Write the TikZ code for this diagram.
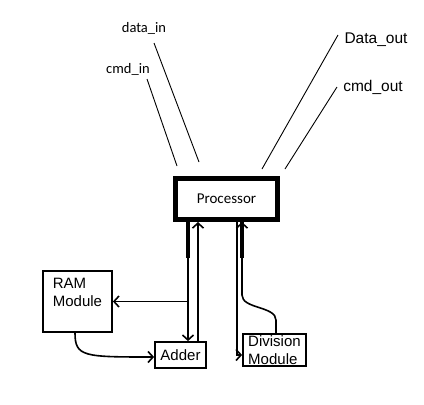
\documentclass[tikz,border=0pt]{standalone}
\usepackage{fontspec}
\setmainfont{Liberation Sans}
\newfontfamily\calibri{Carlito}
\usetikzlibrary{arrows.meta}

\begin{document}
\begin{tikzpicture}[
                x=1pt, y=-1pt,
                unit/.style={draw, rectangle, line width=1.8pt, inner sep=0pt, align=left, font=\fontsize{15}{17.5}\selectfont},
                cpu/.style={draw, rectangle, line width=5pt, minimum width=102pt, minimum height=41pt, font=\calibri\fontsize{15}{17}\selectfont},
                port/.style={font=\calibri\fontsize{14.5}{16}\selectfont},
                bigport/.style={font=\fontsize{15.5}{17}\selectfont},
                wire/.style={line width=1.6pt},
                bus/.style={line width=4pt},
                pin/.style={line width=0.9pt},
                >={Straight Barb[length=5pt,width=11pt]}
            ]
            \useasboundingbox (0,0) rectangle (424,405);

            % Nodes
            \node[cpu] (proc) at (226.5,199) {Processor};
            \node[unit, minimum width=69pt, minimum height=61pt, text depth=18pt] (ram) at (77.5,301.5) {RAM\\Module};
            \node[unit, minimum width=51pt, minimum height=26pt] (adder) at (180.5,355) {Adder};
            \node[unit, minimum width=63pt, minimum height=32pt] (div) at (274.5,350) {Division\\Module};

            % Port labels
            \node[port] (datain) at (144,28) {data\_in};
            \node[port] (cmdin) at (128,69) {cmd\_in};
            \node[bigport] (dataout) at (376,40) {Data\_out};
            \node[bigport] (cmdout) at (373,87) {cmd\_out};

            % Points on the processor
            \coordinate (p1) at ([xshift=15pt]proc.south west);
            \coordinate (p2) at ([xshift=25pt]proc.south west);
            \coordinate (p3) at ([xshift=64pt]proc.south west);
            \coordinate (p4) at ([xshift=69pt]proc.south west);
            \coordinate (tap) at (p1 |- ram.east);
            \coordinate (bend) at ([yshift=-73pt]p4);

            % Pin lines
            \coordinate (cin) at (147,79);   \coordinate (cinend) at (177,166);
            \coordinate (din) at (154,43);   \coordinate (dinend) at (199,162);
            \coordinate (dout) at (338,35);  \coordinate (doutend) at (262,169);
            \coordinate (cout) at (337,87);  \coordinate (coutend) at (285,169);
            \draw[pin] (cin) -- (cinend);
            \draw[pin] (din) -- (dinend);
            \draw[pin] (dout) -- (doutend);
            \draw[pin] (cout) -- (coutend);

            % Edges
            \draw[bus] (p1) -- ++(0,36);
            \draw[bus] (p4) -- ++(0,36);
            \draw[wire,->] (p1) -- (p1 |- adder.north);
            \draw[wire,->] (p2 |- adder.north) -- (p2);
            \draw[wire,->] (tap) -- (ram.east);
            \draw[wire,->] (p3) |- ([yshift=-5pt]div.west);
            \draw[wire,->] ([xshift=1.5pt]div.north) -- ++(0,-13) .. controls +(0,-14) and +(0,14) .. (bend) -- (p4);
            \draw[wire,->] ([xshift=-2.5pt]ram.south) .. controls +(0,24) and +(-70,0) .. ([yshift=-2pt]adder.west);

            \end{tikzpicture}
\end{document}
